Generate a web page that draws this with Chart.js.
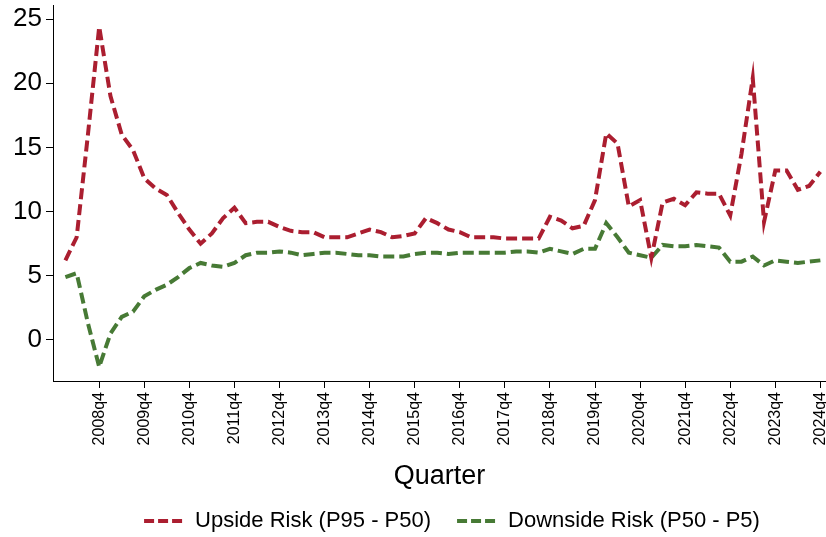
<!DOCTYPE html>
<html>
<head>
<meta charset="utf-8">
<script src="https://cdn.jsdelivr.net/npm/chart.js@4"></script>
<style>
  html, body { margin: 0; padding: 0; background: #fff; }
  #wrap { width: 826px; height: 537px; }
</style>
</head>
<body>
<div id="wrap"><canvas id="riskChart" width="826" height="537"></canvas></div>
<script>
// Quarters 2008q1 .. 2024q4
const years = [2008, 2009, 2010, 2011, 2012, 2013, 2014, 2015, 2016, 2017, 2018, 2019, 2020, 2021, 2022, 2023, 2024];
const quarters = [];
years.forEach(y => { for (let q = 1; q <= 4; q++) quarters.push(y + 'q' + q); });

// Upside risk (P95 - P50)
const upside = [
  6.2, 8.0, 16.0, 24.4,
  19.0, 16.0, 14.8, 12.6,
  11.8, 11.3, 9.9, 8.6,
  7.5, 8.3, 9.5, 10.3,
  9.1, 9.2, 9.2, 8.8,
  8.5, 8.4, 8.4, 8.0,
  8.0, 8.0, 8.3, 8.6,
  8.4, 8.0, 8.1, 8.3,
  9.5, 9.1, 8.6, 8.4,
  8.0, 8.0, 8.0, 7.9,
  7.9, 7.9, 7.9, 9.6,
  9.3, 8.7, 8.9, 10.9,
  16.1, 15.3, 10.4, 10.9,
  6.4, 10.7, 11.0, 10.5,
  11.5, 11.4, 11.4, 9.7,
  14.5, 20.4, 9.2, 13.2,
  13.2, 11.7, 12.0, 13.1
];

// Downside risk (P50 - P5)
const downside = [
  4.9, 5.2, 1.3, -2.1,
  0.5, 1.8, 2.2, 3.4,
  3.9, 4.3, 4.9, 5.6,
  6.0, 5.8, 5.7, 6.0,
  6.6, 6.8, 6.8, 6.9,
  6.8, 6.6, 6.7, 6.8,
  6.8, 6.7, 6.6, 6.6,
  6.5, 6.5, 6.5, 6.7,
  6.8, 6.8, 6.7, 6.8,
  6.8, 6.8, 6.8, 6.8,
  6.9, 6.9, 6.8, 7.1,
  6.9, 6.7, 7.1, 7.1,
  9.1, 8.0, 6.8, 6.6,
  6.4, 7.4, 7.3, 7.3,
  7.4, 7.3, 7.2, 6.1,
  6.1, 6.5, 5.8, 6.2,
  6.1, 6.0, 6.1, 6.2
];

// tick positions: every q4
const xTicks = [];
quarters.forEach((q, i) => { if (q.endsWith('q4')) xTicks.push(i); });
const yTicks = [0, 5, 10, 15, 20, 25];

const FONT = "'Liberation Sans', Arial, Helvetica, sans-serif";
const RED = '#AB1E30';
const GREEN = '#477A35';

function toPoints(arr) {
  return arr.map((v, i) => ({ x: i, y: v }));
}

// move the legend up/right to where the original puts it
const legendShift = {
  id: 'legendShift',
  afterLayout(chart) {
    const lg = chart.legend;
    if (!lg) return;
    lg.left += 39; lg.right += 39;
    lg.top -= 23; lg.height += 23;
  }
};

const ctx = document.getElementById('riskChart').getContext('2d');
new Chart(ctx, {
  type: 'line',
  data: {
    datasets: [{
      label: 'Upside Risk (P95 - P50)',
      data: toPoints(upside),
      borderColor: RED,
      backgroundColor: RED,
      borderWidth: 4,
      borderDash: [11, 5],
      pointRadius: 0,
      tension: 0,
      fill: false
    }, {
      label: 'Downside Risk (P50 - P5)',
      data: toPoints(downside),
      borderColor: GREEN,
      backgroundColor: GREEN,
      borderWidth: 4,
      borderDash: [11, 5],
      pointRadius: 0,
      tension: 0,
      fill: false
    }]
  },
  options: {
    responsive: false,
    animation: false,
    events: [],
    layout: { padding: { top: 5, right: 0, bottom: 0, left: 0 } },
    plugins: {
      tooltip: { enabled: false },
      legend: {
        position: 'bottom',
        maxHeight: 30,
        labels: {
          boxWidth: 40,
          boxHeight: 0,
          padding: 26,
          color: '#000',
          font: { family: FONT, size: 22 },
          // flat dashed sample, three dashes like the original
          generateLabels: chart => Chart.defaults.plugins.legend.labels.generateLabels(chart)
            .map(item => Object.assign(item, { lineDash: [10, 4], lineWidth: 4 }))
        }
      }
    },
    scales: {
      x: {
        type: 'linear',
        min: -1.1,
        max: 67.5,
        grid: { drawOnChartArea: false, drawTicks: true, tickLength: 7, tickColor: '#000' },
        border: { display: true, color: '#000', width: 1 },
        afterBuildTicks: s => { s.ticks = xTicks.map(v => ({ value: v })); },
        afterFit: s => { s.height = 126; s.paddingLeft = 0; s.paddingRight = 0; },
        ticks: {
          autoSkip: false,
          minRotation: 90,
          maxRotation: 90,
          padding: 4,
          color: '#000',
          font: { family: FONT, size: 16 },
          callback: v => quarters[v]
        },
        title: {
          display: true,
          text: 'Quarter',
          color: '#000',
          font: { family: FONT, size: 27 },
          padding: { top: 0, bottom: 14 }
        }
      },
      y: {
        min: -3.2,
        max: 26.1,
        grid: { drawOnChartArea: false, drawTicks: true, tickLength: 7, tickColor: '#000' },
        border: { display: true, color: '#000', width: 1 },
        afterBuildTicks: s => { s.ticks = yTicks.map(v => ({ value: v })); },
        afterFit: s => { s.width = 53; s.paddingTop = 0; s.paddingBottom = 0; },
        ticks: {
          padding: 4,
          color: '#000',
          font: { family: FONT, size: 26 }
        }
      }
    }
  },
  plugins: [legendShift]
});
</script>
</body>
</html>
